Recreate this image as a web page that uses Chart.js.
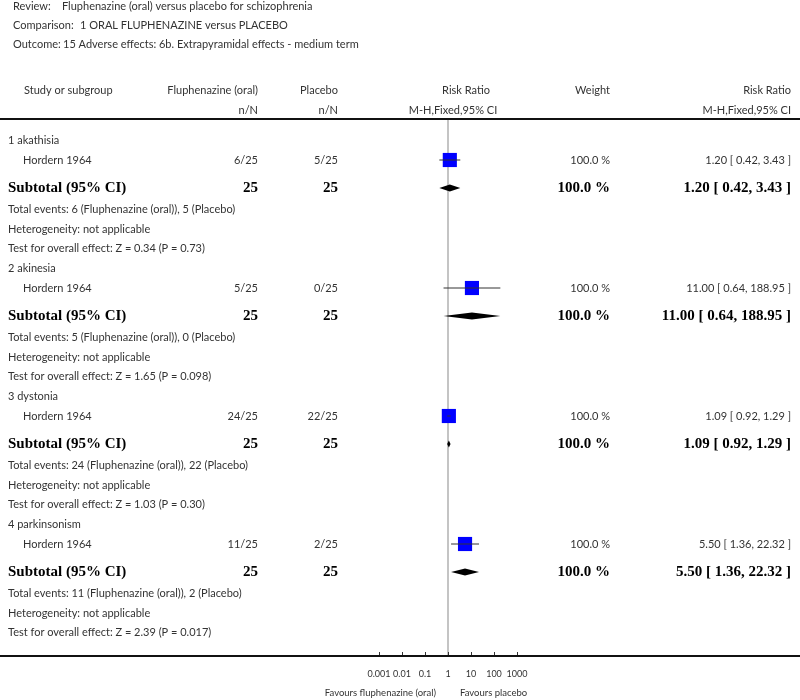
<!DOCTYPE html>
<html>
<head>
<meta charset="utf-8">
<title>Forest plot</title>
<script src="https://cdn.jsdelivr.net/npm/chart.js@4.4.0/dist/chart.umd.min.js"></script>
<style>
  html, body { margin: 0; padding: 0; background: #fff; }
  #forest { display: block; }
</style>
</head>
<body>
<canvas id="forest" width="800" height="700"></canvas>
<script>
// header lines
const headerKeys = ['Review:', 'Comparison:', 'Outcome:'];
const headerValues = [
    'Fluphenazine (oral) versus placebo for schizophrenia',
    '1 ORAL FLUPHENAZINE versus PLACEBO',
    '15 Adverse effects: 6b. Extrapyramidal effects - medium term'
];

// one study per subgroup
const subgroups = ['1 akathisia', '2 akinesia', '3 dystonia', '4 parkinsonism'];
const studyNames = ['Hordern 1964', 'Hordern 1964', 'Hordern 1964', 'Hordern 1964'];
const fluEvents = [6, 5, 24, 11];
const fluTotal = [25, 25, 25, 25];
const plaEvents = [5, 0, 22, 2];
const plaTotal = [25, 25, 25, 25];
const riskRatio = [1.20, 11.00, 1.09, 5.50];
const ciLow = [0.42, 0.64, 0.92, 1.36];
const ciHigh = [3.43, 188.95, 1.29, 22.32];
const weights = [100.0, 100.0, 100.0, 100.0];
const zValues = ['0.34', '1.65', '1.03', '2.39'];
const pValues = ['0.73', '0.098', '0.30', '0.017'];

const tickValues = [0.001, 0.01, 0.1, 1, 10, 100, 1000];
const tickLabels = ['0.001', '0.01', '0.1', '1', '10', '100', '1000'];
const favoursLeft = 'Favours fluphenazine (oral)';
const favoursRight = 'Favours placebo';

// layout
const SANS = '"Lato", "Open Sans", sans-serif';
const SERIF = '"Liberation Serif", "DejaVu Serif", serif';
const TEXT = '#333';
const gapBefore = { label: 19.5, study: 20, subtotal: 28, events: 21.5, het: 19.5, test: 19.5 };

// build row list, y = offset under the header rule
const rows = [];
let yPos = 1.5;
subgroups.forEach((name, g) => {
    ['label', 'study', 'subtotal', 'events', 'het', 'test'].forEach(type => {
        yPos += gapBefore[type];
        rows.push({ type, g, y: yPos });
    });
});
const yMax = 537;
const rowY = (type, g) => rows.find(r => r.type === type && r.g === g).y;

const fmt2 = v => v.toFixed(2);
const ciText = g => `${fmt2(riskRatio[g])} [ ${fmt2(ciLow[g])}, ${fmt2(ciHigh[g])} ]`;

function text(ctx, str, x, y, align, font, color) {
    ctx.font = font;
    ctx.fillStyle = color || TEXT;
    ctx.textAlign = align;
    ctx.textBaseline = 'middle';
    ctx.fillText(str, x, y);
}

const forestPlugin = {
    id: 'forest',
    afterDatasetsDraw(chart) {
        const { ctx, scales: { x, y } } = chart;
        // subtotal diamonds
        ctx.save();
        ctx.fillStyle = '#000';
        subgroups.forEach((s, g) => {
            const cy = y.getPixelForValue(rowY('subtotal', g));
            ctx.beginPath();
            ctx.moveTo(x.getPixelForValue(ciLow[g]), cy);
            ctx.lineTo(x.getPixelForValue(riskRatio[g]), cy - 3.5);
            ctx.lineTo(x.getPixelForValue(ciHigh[g]), cy);
            ctx.lineTo(x.getPixelForValue(riskRatio[g]), cy + 3.5);
            ctx.closePath();
            ctx.fill();
        });
        ctx.restore();
    },
    afterDraw(chart) {
        const { ctx, chartArea, scales: { x, y } } = chart;
        const W = chart.width;
        const small = `11px ${SANS}`;
        const bold = `bold 15px ${SERIF}`;
        ctx.save();

        headerKeys.forEach((k, i) => {
            text(ctx, k, 13, 6 + i * 19, 'left', small);
        });
        text(ctx, headerValues[0], 62, 6, 'left', small);
        text(ctx, headerValues[1], 80, 25, 'left', small);
        text(ctx, headerValues[2], 63, 44, 'left', small);

        // column headings
        text(ctx, 'Study or subgroup', 24, 90, 'left', small);
        text(ctx, 'Fluphenazine (oral)', 258, 90, 'right', small);
        text(ctx, 'n/N', 258, 110, 'right', small);
        text(ctx, 'Placebo', 338, 90, 'right', small);
        text(ctx, 'n/N', 338, 110, 'right', small);
        text(ctx, 'Risk Ratio', 466, 90, 'center', small);
        text(ctx, 'M-H,Fixed,95% CI', 453, 110, 'center', small);
        text(ctx, 'Weight', 610, 90, 'right', small);
        text(ctx, 'Risk Ratio', 791, 90, 'right', small);
        text(ctx, 'M-H,Fixed,95% CI', 791, 110, 'right', small);

        // rules
        ctx.strokeStyle = '#111';
        ctx.lineWidth = 2;
        [chartArea.top, chartArea.bottom].forEach(py => {
            ctx.beginPath();
            ctx.moveTo(0, py);
            ctx.lineTo(W, py);
            ctx.stroke();
        });

        // tick marks pointing up from the axis
        ctx.lineWidth = 1;
        ctx.strokeStyle = '#333';
        tickValues.forEach(v => {
            const px = Math.round(x.getPixelForValue(v)) + 0.5;
            ctx.beginPath();
            ctx.moveTo(px, chartArea.bottom - 1);
            ctx.lineTo(px, chartArea.bottom - 4);
            ctx.stroke();
        });
        const one = x.getPixelForValue(1);
        const tiny = `9.5px ${SANS}`;
        text(ctx, favoursLeft, one - 12, 693, 'right', tiny);
        text(ctx, favoursRight, one + 12, 693, 'left', tiny);

        // table rows
        rows.forEach(r => {
            const g = r.g;
            const py = y.getPixelForValue(r.y);
            if (r.type === 'label') {
                text(ctx, subgroups[g], 8, py, 'left', small);
            } else if (r.type === 'study') {
                text(ctx, studyNames[g], 23, py, 'left', small);
                text(ctx, `${fluEvents[g]}/${fluTotal[g]}`, 258, py, 'right', small);
                text(ctx, `${plaEvents[g]}/${plaTotal[g]}`, 338, py, 'right', small);
                text(ctx, `${weights[g].toFixed(1)} %`, 610, py, 'right', small);
                text(ctx, ciText(g), 791, py, 'right', small);
            } else if (r.type === 'subtotal') {
                text(ctx, 'Subtotal (95% CI)', 8, py, 'left', bold, '#000');
                text(ctx, String(fluTotal[g]), 258, py, 'right', bold, '#000');
                text(ctx, String(plaTotal[g]), 338, py, 'right', bold, '#000');
                text(ctx, `${weights[g].toFixed(1)} %`, 610, py, 'right', bold, '#000');
                text(ctx, ciText(g), 791, py, 'right', bold, '#000');
            } else if (r.type === 'events') {
                text(ctx, `Total events: ${fluEvents[g]} (Fluphenazine (oral)), ${plaEvents[g]} (Placebo)`, 8, py, 'left', small);
            } else if (r.type === 'het') {
                text(ctx, 'Heterogeneity: not applicable', 8, py, 'left', small);
            } else {
                text(ctx, `Test for overall effect: Z = ${zValues[g]} (P = ${pValues[g]})`, 8, py, 'left', small);
            }
        });
        ctx.restore();
    }
};

const studyRows = subgroups.map((s, g) => rowY('study', g));

const datasets = [
    {
        label: 'no effect',
        type: 'line',
        data: [{ x: 1, y: 0 }, { x: 1, y: yMax }],
        borderColor: '#c4c4c4',
        borderWidth: 2,
        pointRadius: 0,
        order: 3
    },
    {
        label: 'studies',
        data: riskRatio.map((v, g) => ({ x: v, y: studyRows[g] })),
        pointStyle: 'rect',
        pointRadius: 10,
        backgroundColor: '#0000ff',
        borderWidth: 0,
        order: 2
    }
].concat(subgroups.map((s, g) => ({
    label: 'ci ' + g,
    type: 'line',
    data: [{ x: ciLow[g], y: studyRows[g] }, { x: ciHigh[g], y: studyRows[g] }],
    borderColor: '#333',
    borderWidth: 1,
    pointRadius: 0,
    order: 1
})));

new Chart(document.getElementById('forest'), {
    type: 'scatter',
    data: { datasets },
    options: {
        responsive: false,
        animation: false,
        events: [],
        layout: { padding: { left: 379, right: 283, top: 119, bottom: 0 } },
        plugins: { legend: { display: false }, tooltip: { enabled: false } },
        scales: {
            x: {
                type: 'logarithmic',
                min: 0.001,
                max: 1000,
                afterBuildTicks: s => { s.ticks = tickValues.map(v => ({ value: v })); },
                afterFit: s => { s.height = 44; },
                grid: { display: false },
                border: { display: false },
                ticks: {
                    autoSkip: false,
                    maxRotation: 0,
                    padding: 5,
                    color: TEXT,
                    font: { family: SANS, size: 9 },
                    callback: (v, i) => tickLabels[i]
                }
            },
            y: {
                type: 'linear',
                min: 0,
                max: yMax,
                reverse: true,
                display: false
            }
        }
    },
    plugins: [forestPlugin]
});
</script>
</body>
</html>
